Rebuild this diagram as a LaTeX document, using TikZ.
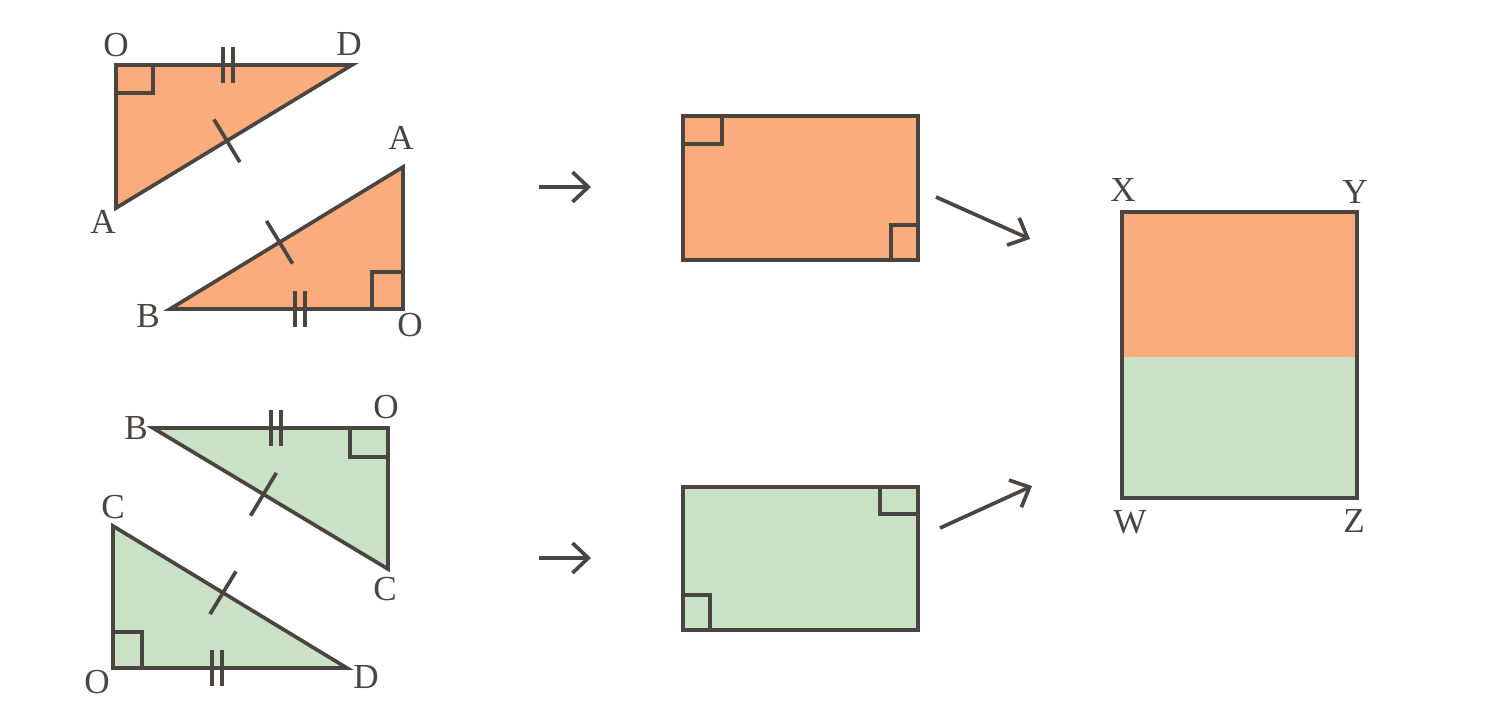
\documentclass[tikz,border=0pt]{standalone}
\usepackage{fontspec}
\setmainfont{Liberation Serif}
\usetikzlibrary{arrows.meta,calc}
\definecolor{peach}{RGB}{250,172,124}
\definecolor{sage}{RGB}{201,225,197}
\definecolor{ink}{RGB}{74,69,65}

\begin{document}
\begin{tikzpicture}[x=0.02cm,y=-0.02cm,
	edge/.style={draw=ink,line width=2.1pt,line join=miter},
	lbl/.style={text=ink,inner sep=0pt,font=\fontsize{20}{24}\selectfont},
	arr/.style={draw=ink,line width=2.1pt,-{Straight Barb[length=9pt,width=17pt]}}]
		\useasboundingbox (0,0) rectangle (1491,704);
		% vertices
		\coordinate (O1) at (116,65);  \coordinate (D1) at (352,65);  \coordinate (A1) at (116,208);
		\coordinate (B2) at (170,309); \coordinate (O2) at (403,309); \coordinate (A2) at (403,167);
		\coordinate (B3) at (153,428); \coordinate (O3) at (388,428); \coordinate (C3) at (388,569);
		\coordinate (C4) at (113,526); \coordinate (O4) at (113,668); \coordinate (D4) at (347,668);
		% triangles
		\filldraw[edge,fill=peach] (O1) -- (D1) -- (A1) -- cycle;
		\filldraw[edge,fill=peach] (B2) -- (O2) -- (A2) -- cycle;
		\filldraw[edge,fill=sage] (B3) -- (O3) -- (C3) -- cycle;
		\filldraw[edge,fill=sage] (C4) -- (O4) -- (D4) -- cycle;
		% right angles
		\draw[edge] (O1) ++(37,0) -- ++(0,28) -- ++(-37,0);
		\draw[edge] (O2) ++(-31,0) -- ++(0,-37) -- ++(31,0);
		\draw[edge] (O3) ++(-38,0) -- ++(0,29) -- ++(38,0);
		\draw[edge] (O4) ++(29,0) -- ++(0,-36) -- ++(-29,0);
		% equal sides
		\foreach \x/\y in {228/65,300/309,276/428,217/668}
			\draw[edge] (\x-5,\y-18) -- (\x-5,\y+18) (\x+5,\y-18) -- (\x+5,\y+18);
		\foreach \p/\q in {A1/D1,B2/A2,B3/C3,C4/D4}
			\draw[edge] ($(\p)!0.47!(\q)!0.5cm!90:(\q)$) -- ($(\p)!0.47!(\q)!0.5cm!-90:(\q)$);
		% labels
		\node[lbl] (lO1) at (116,45) {O};  \node[lbl] (lD1) at (349,44) {D};  \node[lbl] (lA1) at (103,222) {A};
		\node[lbl] (lA2) at (401,138) {A}; \node[lbl] (lB2) at (148,316) {B}; \node[lbl] (lO2) at (410,325) {O};
		\node[lbl] (lB3) at (136,428) {B}; \node[lbl] (lO3) at (386,407) {O}; \node[lbl] (lC3) at (385,589) {C};
		\node[lbl] (lC4) at (113,507) {C}; \node[lbl] (lO4) at (97,682) {O};  \node[lbl] (lD4) at (366,677) {D};
		% rectangles
		\filldraw[edge,fill=peach] (683,116) rectangle (918,260);
		\draw[edge] (683,116) ++(39,0) -- ++(0,28) -- ++(-39,0);
		\draw[edge] (918,260) ++(-27,0) -- ++(0,-35) -- ++(27,0);
		\filldraw[edge,fill=sage] (683,487) rectangle (918,630);
		\draw[edge] (918,487) ++(-38,0) -- ++(0,27) -- ++(38,0);
		\draw[edge] (683,630) ++(27,0) -- ++(0,-35) -- ++(-27,0);
		% big rectangle
		\fill[peach] (1122,212) rectangle (1357,357);
		\fill[sage] (1122,357) rectangle (1357,498);
		\draw[edge] (1122,212) rectangle (1357,498);
		\node[lbl] (lX) at (1123,190) {X}; \node[lbl] (lY) at (1355,192) {Y};
		\node[lbl] (lW) at (1130,522) {W}; \node[lbl] (lZ) at (1354,521) {Z};
		% arrows
		\coordinate (s1) at (539,187); \coordinate (e1) at (591,187);
		\coordinate (s2) at (539,558); \coordinate (e2) at (591,558);
		\coordinate (s3) at (936,197); \coordinate (e3) at (1030,239);
		\coordinate (s4) at (940,528); \coordinate (e4) at (1032,486);
		\foreach \s/\e in {s1/e1,s2/e2,s3/e3,s4/e4}
			\draw[arr] (\s) -- (\e);
\end{tikzpicture}
\end{document}
